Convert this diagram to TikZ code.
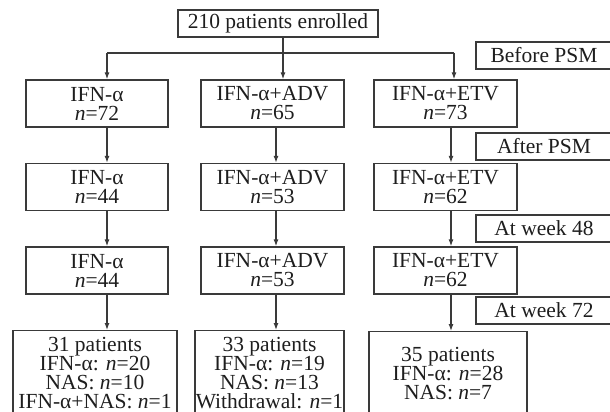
\documentclass[tikz,border=0pt]{standalone}
\usepackage{fontspec}
\setmainfont{Liberation Serif}
\usetikzlibrary{arrows.meta}
\definecolor{linegray}{HTML}{3A3A3A}
\definecolor{textgray}{HTML}{1E1E1E}
\tikzset{
	box/.style={draw=linegray, line width=1.3pt, text=textgray, align=center, inner sep=0pt, font=\fontsize{21.5}{19}\selectfont},
	groupbox/.style={box, minimum height=47pt},
	tagbox/.style={box, minimum width=136pt, minimum height=27pt},
	endbox/.style={box, anchor=north, minimum height=84pt},
	arr/.style={draw=linegray, line width=1.2pt, -{Latex[length=7pt,width=5pt]}},
	link/.style={draw=linegray, line width=1.2pt}
}
\newcommand{\nn}{\textit{n}}

\begin{document}
\begin{tikzpicture}[x=1pt, y=-1pt]
			%%%%% START %%%%%
			\useasboundingbox[fill=white] (0, 0) rectangle (610, 412);
			
			\node[box, minimum width=200pt, minimum height=27pt] (enrolled) at (278, 23.5) {210 patients enrolled};
			
			\coordinate (jA) at (107, 53);
			\coordinate (jB) at (283, 53);
			\coordinate (jC) at (454, 53);
			\coordinate (colA) at (107, 0);
			\coordinate (colB) at (276, 0);
			\coordinate (colC) at (451, 0);
			
			\node[groupbox, minimum width=142pt] (ifn1) at (97, 103.5) {IFN-α\\\nn=72};
			\node[groupbox, minimum width=143pt] (adv1) at (272.5, 103.5) {IFN-α+ADV\\\nn=65};
			\node[groupbox, minimum width=143pt] (etv1) at (445.5, 103.5) {IFN-α+ETV\\\nn=73};
			
			\node[groupbox, minimum width=142pt] (ifn2) at (97, 187) {IFN-α\\\nn=44};
			\node[groupbox, minimum width=143pt] (adv2) at (272.5, 187) {IFN-α+ADV\\\nn=53};
			\node[groupbox, minimum width=143pt] (etv2) at (445.5, 187) {IFN-α+ETV\\\nn=62};
			
			\node[groupbox, minimum width=142pt] (ifn3) at (97, 270.5) {IFN-α\\\nn=44};
			\node[groupbox, minimum width=143pt] (adv3) at (272.5, 270.5) {IFN-α+ADV\\\nn=53};
			\node[groupbox, minimum width=143pt] (etv3) at (445.5, 270.5) {IFN-α+ETV\\\nn=62};
			
			\node[endbox, minimum width=164pt] (ifnend) at (95, 330) {31 patients\\IFN-α: \nn=20\\NAS: \nn=10\\IFN-α+NAS: \nn=1};
			\node[endbox, minimum width=149pt] (advend) at (269.5, 330) {33 patients\\IFN-α: \nn=19\\NAS: \nn=13\\Withdrawal: \nn=1};
			\node[endbox, minimum width=158pt] (etvend) at (448, 331) {35 patients\\IFN-α: \nn=28\\NAS: \nn=7};
			
			\node[tagbox] (before) at (544, 55.5) {Before PSM};
			\node[tagbox] (after) at (544, 146.5) {After PSM};
			\node[tagbox] (week48) at (544, 228.5) {At week 48};
			\node[tagbox] (week72) at (544, 310.5) {At week 72};
			
			% split from the enrolled box
			\draw[link] (jA) -- (jC);
			\draw[arr] (enrolled.south -| jB) -- (adv1.north -| jB);
			\draw[arr] (jA) -- (ifn1.north -| jA);
			\draw[arr] (jC) -- (etv1.north -| jC);
			
			% down each arm
			\draw[arr] (ifn1.south -| colA) -- (ifn2.north -| colA);
			\draw[arr] (ifn2.south -| colA) -- (ifn3.north -| colA);
			\draw[arr] (ifn3.south -| colA) -- (ifnend.north -| colA);
			\draw[arr] (adv1.south -| colB) -- (adv2.north -| colB);
			\draw[arr] (adv2.south -| colB) -- (adv3.north -| colB);
			\draw[arr] (adv3.south -| colB) -- (advend.north -| colB);
			\draw[arr] (etv1.south -| colC) -- (etv2.north -| colC);
			\draw[arr] (etv2.south -| colC) -- (etv3.north -| colC);
			\draw[arr] (etv3.south -| colC) -- (etvend.north -| colC);
			%%%%% END %%%%%
\end{tikzpicture}
\end{document}
